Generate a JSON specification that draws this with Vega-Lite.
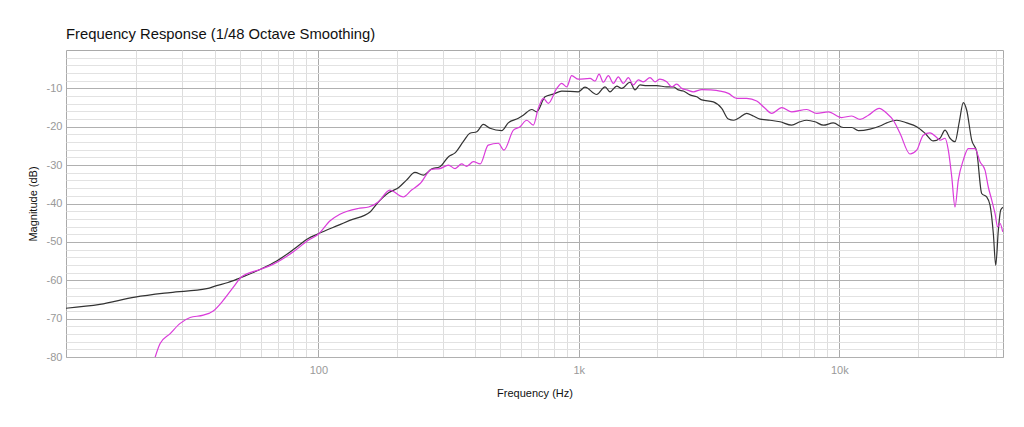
{
  "$schema": "https://vega.github.io/schema/vega-lite/v6.json",
  "width": 937,
  "height": 307,
  "autosize": {"type": "none"},
  "padding": {"left": 66, "top": 50, "right": 21, "bottom": 70},
  "title": {
    "text": "Frequency Response (1/48 Octave Smoothing)",
    "anchor": "start",
    "frame": "group",
    "font": "Liberation Sans",
    "fontSize": 14.8,
    "fontWeight": "normal",
    "color": "#111",
    "offset": 8
  },
  "config": {
    "view": {"stroke": "#aaa", "strokeWidth": 1},
    "font": "Liberation Sans"
  },
  "datasets": {
    "black": [
      {"f": 10.75, "db": -67.3}, {"f": 14.5, "db": -66.3}, {"f": 19.8, "db": -64.4}, {"f": 27.0, "db": -63.2},
      {"f": 37.3, "db": -62.2}, {"f": 40.7, "db": -61.4}, {"f": 45.0, "db": -60.6}, {"f": 50.0, "db": -59.4},
      {"f": 59.7, "db": -57.2}, {"f": 69.2, "db": -55.0}, {"f": 80.2, "db": -52.0}, {"f": 91.5, "db": -49.1},
      {"f": 100, "db": -47.9}, {"f": 121, "db": -45.5}, {"f": 132, "db": -44.4}, {"f": 158, "db": -42.2},
      {"f": 168, "db": -40.0}, {"f": 186, "db": -37.2}, {"f": 203, "db": -35.9}, {"f": 218, "db": -33.9},
      {"f": 235, "db": -31.9}, {"f": 253, "db": -32.6}, {"f": 272, "db": -31.0}, {"f": 293, "db": -30.4},
      {"f": 316, "db": -27.8}, {"f": 335, "db": -26.8}, {"f": 360, "db": -23.9}, {"f": 382, "db": -21.7},
      {"f": 406, "db": -21.3}, {"f": 430, "db": -19.4}, {"f": 456, "db": -20.4}, {"f": 506, "db": -21.0},
      {"f": 536, "db": -19.0}, {"f": 586, "db": -17.8}, {"f": 612, "db": -17.0}, {"f": 660, "db": -15.5},
      {"f": 689, "db": -16.1}, {"f": 742, "db": -12.2}, {"f": 798, "db": -11.5}, {"f": 860, "db": -10.7},
      {"f": 996, "db": -10.9}, {"f": 1056, "db": -9.7}, {"f": 1171, "db": -11.6}, {"f": 1261, "db": -9.6},
      {"f": 1318, "db": -10.9}, {"f": 1398, "db": -9.4}, {"f": 1461, "db": -10.0}, {"f": 1572, "db": -8.4},
      {"f": 1643, "db": -10.4}, {"f": 1718, "db": -9.1}, {"f": 1822, "db": -9.3}, {"f": 1991, "db": -9.3},
      {"f": 2175, "db": -9.6}, {"f": 2306, "db": -9.6}, {"f": 2410, "db": -10.4}, {"f": 2519, "db": -10.7},
      {"f": 2673, "db": -11.7}, {"f": 2836, "db": -12.2}, {"f": 2964, "db": -13.0}, {"f": 3283, "db": -13.5},
      {"f": 3537, "db": -15.2}, {"f": 3750, "db": -18.0}, {"f": 3920, "db": -18.3}, {"f": 4097, "db": -17.8},
      {"f": 4411, "db": -16.5}, {"f": 4676, "db": -17.2}, {"f": 4961, "db": -18.0}, {"f": 5420, "db": -18.3},
      {"f": 5922, "db": -18.7}, {"f": 6567, "db": -19.6}, {"f": 7067, "db": -18.7}, {"f": 7499, "db": -18.3},
      {"f": 8066, "db": -18.7}, {"f": 8682, "db": -19.6}, {"f": 9484, "db": -19.0}, {"f": 10360, "db": -20.2},
      {"f": 11160, "db": -20.2}, {"f": 11830, "db": -21.0}, {"f": 13120, "db": -20.6}, {"f": 14330, "db": -19.8},
      {"f": 15210, "db": -19.0}, {"f": 16610, "db": -18.3}, {"f": 18140, "db": -19.0}, {"f": 19820, "db": -20.0},
      {"f": 21330, "db": -21.7}, {"f": 22950, "db": -23.7}, {"f": 24360, "db": -23.0}, {"f": 25460, "db": -20.9},
      {"f": 26610, "db": -23.0}, {"f": 27810, "db": -23.9}, {"f": 28880, "db": -18.7}, {"f": 29920, "db": -13.7},
      {"f": 30840, "db": -15.7}, {"f": 32230, "db": -23.5}, {"f": 33690, "db": -26.5}, {"f": 35210, "db": -37.4},
      {"f": 36800, "db": -38.3}, {"f": 37890, "db": -40.4}, {"f": 39020, "db": -47.8}, {"f": 39850, "db": -56.1},
      {"f": 40780, "db": -47.0}, {"f": 41650, "db": -41.7}, {"f": 42500, "db": -41.0}
    ],
    "magenta": [
      {"f": 23.4, "db": -81.0}, {"f": 24.7, "db": -76.5}, {"f": 27.0, "db": -73.9}, {"f": 29.4, "db": -71.3},
      {"f": 32.2, "db": -69.7}, {"f": 36.2, "db": -69.1}, {"f": 39.5, "db": -68.0}, {"f": 43.2, "db": -65.2},
      {"f": 47.2, "db": -61.8}, {"f": 50.8, "db": -59.1}, {"f": 59.7, "db": -57.2}, {"f": 67.2, "db": -55.8},
      {"f": 80.2, "db": -52.6}, {"f": 91.5, "db": -49.6}, {"f": 100, "db": -48.0}, {"f": 111, "db": -44.5},
      {"f": 121, "db": -42.8}, {"f": 142, "db": -41.3}, {"f": 156, "db": -40.9}, {"f": 170, "db": -39.6},
      {"f": 188, "db": -36.5}, {"f": 212, "db": -38.3}, {"f": 228, "db": -36.5}, {"f": 246, "db": -34.8},
      {"f": 272, "db": -31.1}, {"f": 293, "db": -30.9}, {"f": 316, "db": -30.0}, {"f": 335, "db": -30.9},
      {"f": 355, "db": -29.7}, {"f": 371, "db": -30.3}, {"f": 394, "db": -29.1}, {"f": 418, "db": -29.7},
      {"f": 449, "db": -24.8}, {"f": 491, "db": -24.3}, {"f": 516, "db": -26.1}, {"f": 561, "db": -20.9},
      {"f": 595, "db": -20.0}, {"f": 631, "db": -18.3}, {"f": 669, "db": -19.6}, {"f": 699, "db": -15.2},
      {"f": 731, "db": -12.6}, {"f": 764, "db": -13.9}, {"f": 823, "db": -10.0}, {"f": 860, "db": -8.7},
      {"f": 899, "db": -9.6}, {"f": 939, "db": -6.7}, {"f": 996, "db": -7.6}, {"f": 1104, "db": -7.4},
      {"f": 1154, "db": -8.1}, {"f": 1196, "db": -6.3}, {"f": 1242, "db": -8.4}, {"f": 1298, "db": -6.7},
      {"f": 1357, "db": -8.7}, {"f": 1418, "db": -7.0}, {"f": 1482, "db": -8.7}, {"f": 1549, "db": -7.2},
      {"f": 1619, "db": -9.1}, {"f": 1692, "db": -7.8}, {"f": 1768, "db": -8.3}, {"f": 1876, "db": -7.2},
      {"f": 1961, "db": -8.3}, {"f": 2049, "db": -7.6}, {"f": 2175, "db": -8.3}, {"f": 2273, "db": -9.6},
      {"f": 2376, "db": -8.9}, {"f": 2483, "db": -10.0}, {"f": 2596, "db": -10.4}, {"f": 2751, "db": -10.9},
      {"f": 2964, "db": -10.3}, {"f": 3189, "db": -10.4}, {"f": 3483, "db": -10.7}, {"f": 3750, "db": -11.3},
      {"f": 4039, "db": -12.6}, {"f": 4411, "db": -12.6}, {"f": 4819, "db": -13.3}, {"f": 5186, "db": -15.2},
      {"f": 5502, "db": -16.5}, {"f": 6012, "db": -15.0}, {"f": 6567, "db": -16.1}, {"f": 7499, "db": -15.5},
      {"f": 8188, "db": -16.5}, {"f": 9073, "db": -16.1}, {"f": 10210, "db": -17.6}, {"f": 11160, "db": -17.2},
      {"f": 12010, "db": -18.1}, {"f": 12930, "db": -17.0}, {"f": 14240, "db": -15.2}, {"f": 15210, "db": -16.5},
      {"f": 16120, "db": -18.3}, {"f": 17100, "db": -21.7}, {"f": 18680, "db": -27.1}, {"f": 19820, "db": -26.1},
      {"f": 21010, "db": -22.2}, {"f": 22290, "db": -21.6}, {"f": 23650, "db": -22.8}, {"f": 24360, "db": -23.5},
      {"f": 25460, "db": -23.0}, {"f": 26210, "db": -26.1}, {"f": 27010, "db": -33.0}, {"f": 27810, "db": -40.9},
      {"f": 28630, "db": -33.9}, {"f": 29920, "db": -28.7}, {"f": 31280, "db": -25.7}, {"f": 33180, "db": -25.7},
      {"f": 34680, "db": -29.1}, {"f": 36250, "db": -31.3}, {"f": 37320, "db": -35.7}, {"f": 38470, "db": -39.1},
      {"f": 39600, "db": -42.6}, {"f": 40550, "db": -46.1}, {"f": 41380, "db": -45.2}, {"f": 42390, "db": -47.4}
    ]
  },
  "layer": [
    {
      "data": {"name": "black"},
      "mark": {"type": "line", "color": "#333333", "strokeWidth": 1.2, "clip": true, "interpolate": "monotone"},
      "encoding": {
        "x": {
          "field": "f", "type": "quantitative",
          "scale": {"type": "log", "domain": [10.75, 42500], "nice": false},
          "axis": {
            "orient": "top", "title": null, "labels": false, "ticks": false, "domain": false,
            "values": [20, 30, 40, 50, 60, 70, 80, 90, 200, 300, 400, 500, 600, 700, 800, 900, 2000, 3000, 4000, 5000, 6000, 7000, 8000, 9000, 20000, 30000, 40000],
            "grid": true, "gridColor": "#dddddd", "gridWidth": 1
          }
        },
        "y": {
          "field": "db", "type": "quantitative",
          "scale": {"domain": [-80, 0], "nice": false, "zero": false},
          "axis": {
            "orient": "right", "title": null, "labels": false, "ticks": false, "domain": false,
            "values": [-78, -76, -74, -72, -68, -66, -64, -62, -58, -56, -54, -52, -48, -46, -44, -42, -38, -36, -34, -32, -28, -26, -24, -22, -18, -16, -14, -12, -8, -6, -4, -2],
            "grid": true, "gridColor": "#e2e2e2", "gridWidth": 1
          }
        }
      }
    },
    {
      "data": {"name": "magenta"},
      "mark": {"type": "line", "color": "#da3bda", "strokeWidth": 1.2, "clip": true, "interpolate": "monotone"},
      "encoding": {
        "x": {
          "field": "f", "type": "quantitative",
          "scale": {"type": "log", "domain": [10.75, 42500], "nice": false},
          "axis": {
            "orient": "bottom", "title": "Frequency (Hz)", "values": [100, 1000, 10000],
            "labelExpr": "datum.value >= 1000 ? (datum.value / 1000) + 'k' : '' + datum.value",
            "ticks": false, "domain": false, "labelPadding": 7, "labelFontSize": 11, "labelColor": "#999999",
            "labelFont": "Liberation Sans", "titleFont": "Liberation Sans", "titleFontSize": 11,
            "titleFontWeight": "normal", "titleColor": "#111", "titlePadding": 12,
            "grid": true, "gridColor": "#aaaaaa", "gridWidth": 1
          }
        },
        "y": {
          "field": "db", "type": "quantitative",
          "scale": {"domain": [-80, 0], "nice": false, "zero": false},
          "axis": {
            "orient": "left", "title": "Magnitude (dB)",
            "values": [-80, -70, -60, -50, -40, -30, -20, -10],
            "labelExpr": "'' + datum.value",
            "ticks": false, "domain": false, "labelPadding": 4, "labelFontSize": 11, "labelColor": "#999999",
            "labelFont": "Liberation Sans", "titleFont": "Liberation Sans", "titleFontSize": 11,
            "titleFontWeight": "normal", "titleColor": "#111", "titlePadding": 8,
            "grid": true, "gridColor": "#b0b0b0", "gridWidth": 1
          }
        }
      }
    }
  ],
  "resolve": {"axis": {"x": "independent", "y": "independent"}}
}
